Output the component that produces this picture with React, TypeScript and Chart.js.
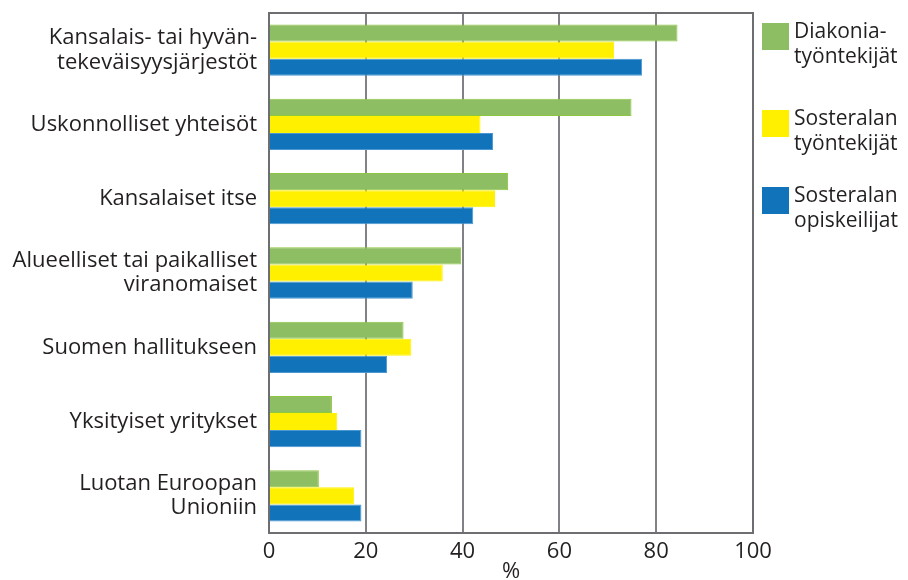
import React, { useEffect, useRef } from "react";
import { Chart, registerables } from "chart.js";

Chart.register(...registerables);

const categories: (string | string[])[] = [
  ["Kansalais- tai hyvän-", "tekeväisyysjärjestöt"],
  "Uskonnolliset yhteisöt",
  "Kansalaiset itse",
  ["Alueelliset tai paikalliset", "viranomaiset"],
  "Suomen hallitukseen",
  "Yksityiset yritykset",
  ["Luotan Euroopan", "Unioniin"],
];

const diakonia = [84.4, 74.9, 49.4, 39.7, 27.8, 13.0, 10.3];
const sosteralanTyontekijat = [71.3, 43.7, 46.7, 35.9, 29.4, 14.1, 17.6];
const sosteralanOpiskelijat = [77.1, 46.3, 42.2, 29.7, 24.4, 19.1, 19.1];

const seriesLabels: string[][] = [
  ["Diakonia-", "työntekijät"],
  ["Sosteralan", "työntekijät"],
  ["Sosteralan", "opiskeilijat"],
];
const seriesColors = ["#8EBE63", "#FFF000", "#1174BB"];
const seriesBorders = ["#8DC63F", "#FFF200", "#4A97D2"];

const xTicks = [0, 20, 40, 60, 80, 100];
const xTitle = "%";

const FONT = "'Open Sans', 'Noto Sans', sans-serif";
const TEXT = "#231F20";

const framePlugin = {
  id: "frameAndLegend",
  afterDraw(chart: any) {
    const { ctx, chartArea } = chart;
    ctx.save();
    ctx.strokeStyle = "#6D6E71";
    ctx.lineWidth = 2;
    ctx.strokeRect(
      chartArea.left,
      chartArea.top,
      chartArea.right - chartArea.left,
      chartArea.bottom - chartArea.top
    );
    // legend
    const boxX = chartArea.right + 9;
    const boxTops = [23, 110, 187];
    ctx.font = `21px ${FONT}`;
    ctx.textBaseline = "alphabetic";
    ctx.textAlign = "left";
    seriesLabels.forEach((lines, i) => {
      const top = boxTops[i];
      ctx.fillStyle = seriesColors[i];
      ctx.fillRect(boxX, top, 27, 27);
      ctx.fillStyle = TEXT;
      lines.forEach((ln, j) => {
        ctx.fillText(ln, boxX + 32, top + 15 + j * 25);
      });
    });
    ctx.restore();
  },
};

export default function App() {
  const ref = useRef<HTMLCanvasElement>(null);
  useEffect(() => {
    if (!ref.current) return;
    const chart = new Chart(ref.current, {
      type: "bar",
      data: {
        labels: categories,
        datasets: [
          { label: seriesLabels[0].join(" "), data: diakonia },
          { label: seriesLabels[1].join(" "), data: sosteralanTyontekijat },
          { label: seriesLabels[2].join(" "), data: sosteralanOpiskelijat },
        ].map((d, i) => ({
          ...d,
          backgroundColor: seriesColors[i],
          borderColor: seriesBorders[i],
          borderWidth: 1,
          categoryPercentage: 0.69,
          barPercentage: 1,
        })),
      },
      options: {
        indexAxis: "y",
        animation: false,
        responsive: true,
        maintainAspectRatio: false,
        layout: { padding: { top: 13, right: 155, left: 0, bottom: 0 } },
        plugins: {
          legend: { display: false },
          tooltip: { enabled: false },
        },
        scales: {
          x: {
            min: 0,
            max: 100,
            afterBuildTicks: (scale: any) => {
              scale.ticks = xTicks.map((v) => ({ value: v }));
            },
            afterFit: (scale: any) => {
              scale.height = 47;
              scale.paddingLeft = 0;
              scale.paddingRight = 0;
            },
            ticks: {
              font: { family: FONT, size: 22, lineHeight: 1.1 },
              color: TEXT,
              padding: 7,
            },
            grid: {
              color: "#808285",
              lineWidth: 2,
              drawTicks: false,
            },
            border: { display: false },
            title: {
              display: true,
              text: xTitle,
              font: { family: FONT, size: 22, lineHeight: 0.75 },
              color: TEXT,
              padding: { top: 0, bottom: 0 },
            },
          },
          y: {
            afterFit: (scale: any) => {
              scale.width = 269;
              scale.paddingTop = 0;
              scale.paddingBottom = 0;
            },
            ticks: {
              font: { family: FONT, size: 22, lineHeight: 1.1 },
              color: TEXT,
              padding: 12,
            },
            grid: { display: false, drawTicks: false },
            border: { display: false },
          },
        },
      },
      plugins: [framePlugin],
    });
    return () => chart.destroy();
  }, []);
  return (
    <div style={{ position: "fixed", left: 0, top: 0, width: 908, height: 580, background: "#fff" }}>
      <canvas ref={ref} />
    </div>
  );
}
